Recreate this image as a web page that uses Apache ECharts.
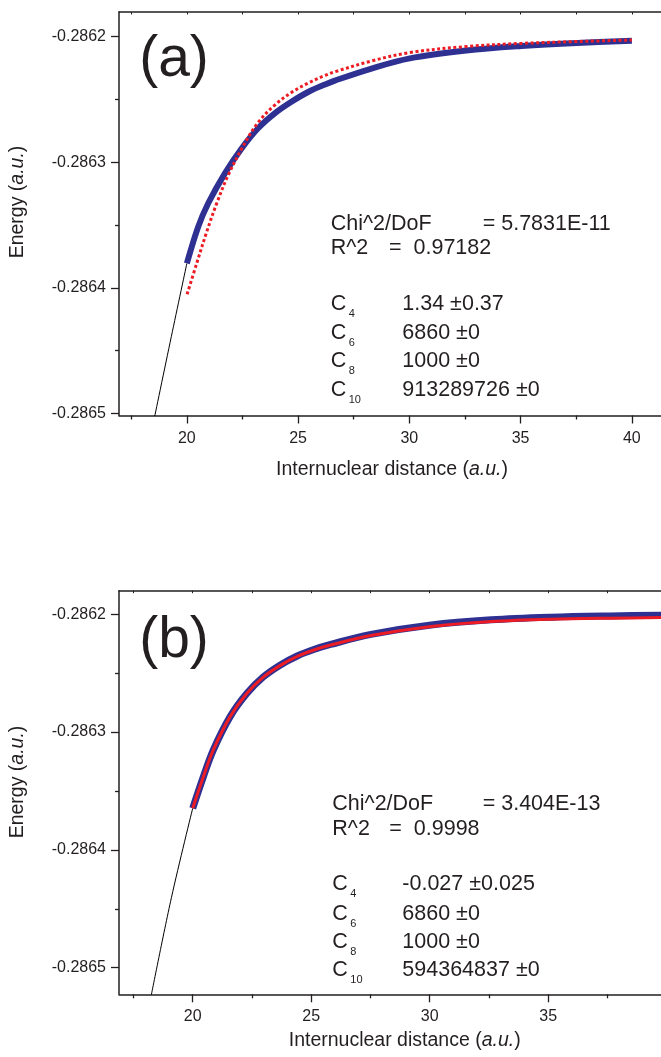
<!DOCTYPE html>
<html><head><meta charset="utf-8">
<script src="https://cdn.jsdelivr.net/npm/echarts@6/dist/echarts.min.js"></script>
<style>html,body{margin:0;padding:0;background:#fff}#c{width:661px;height:1057px}</style>
</head><body><div id="c"></div>
<script>
// ---------- Panel (a) data ----------
const xBlackA = [18.52, 19.3, 20.0];
const yBlackA = [-0.2865052, -0.2864389, -0.2863805];
const xBlueA = [20.0, 20.51, 20.96, 21.71, 22.46, 23.20, 23.95, 24.70, 25.45, 26.20, 26.65, 28.3, 30.02, 32.56, 35.04, 37.55, 40.0];
const yBlueA = [-0.2863805, -0.2863513, -0.2863326, -0.2863088, -0.2862890, -0.2862729, -0.2862610, -0.2862518, -0.2862440, -0.2862381, -0.2862349, -0.2862253, -0.2862172, -0.2862110, -0.2862074, -0.2862049, -0.2862032];
const xRedA = [20.01, 20.44, 20.89, 21.33, 21.86, 22.61, 23.20, 23.95, 24.70, 25.45, 26.20, 26.65, 28.3, 30.02, 32.56, 35.04, 37.55, 40.0];
const yRedA = [-0.2864051, -0.2863806, -0.2863555, -0.2863332, -0.2863101, -0.2862846, -0.2862683, -0.2862544, -0.2862444, -0.2862369, -0.2862309, -0.2862279, -0.2862193, -0.2862126, -0.2862078, -0.2862053, -0.2862038, -0.2862026];

// ---------- Panel (b) data ----------
const xBlackB = [18.22, 19.1, 20.0];
const yBlackB = [-0.2865266, -0.2864407, -0.2863647];
const xBlueB = [20.0, 20.45, 20.87, 21.58, 22.29, 22.99, 23.70, 24.41, 25.11, 25.82, 27.52, 30.06, 32.6, 35.1, 37.6, 40.0];
const yBlueB = [-0.2863647, -0.2863379, -0.2863152, -0.2862869, -0.2862671, -0.2862530, -0.2862430, -0.2862354, -0.2862299, -0.2862256, -0.2862171, -0.2862091, -0.2862047, -0.2862025, -0.2862014, -0.2862008];
const xRedB = [20.0, 20.45, 20.87, 21.58, 22.29, 22.99, 23.70, 24.41, 25.11, 25.82, 27.52, 30.06, 32.6, 35.1, 37.6, 40.0];
const yRedB = [-0.2863647, -0.2863379, -0.2863152, -0.2862869, -0.2862671, -0.2862532, -0.2862434, -0.2862358, -0.2862303, -0.2862261, -0.2862181, -0.2862104, -0.2862062, -0.2862042, -0.2862033, -0.2862028];

// ---------- Tick values ----------
const xMajorTicksA = [20, 25, 30, 35, 40];
const xMajorTicksB = [20, 25, 30, 35];
const xMinorTicks = [17.5, 22.5, 27.5, 32.5, 37.5];
const xTopTicks = [17.5, 20, 22.5, 25, 27.5, 30, 32.5, 35, 37.5, 40];
const yMajorTicks = [-0.2865, -0.2864, -0.2863, -0.2862];
const yMinorTicks = [-0.28645, -0.28635, -0.28625];

// ---------- Fit annotations ----------
const statsA = { chi: '= 5.7831E-11', r2: '=  0.97182', c: ['1.34 \u00b10.37', '6860 \u00b10', '1000 \u00b10', '913289726 \u00b10'] };
const statsB = { chi: '= 3.404E-13', r2: '=  0.9998', c: ['-0.027 \u00b10.025', '6860 \u00b10', '1000 \u00b10', '594364837 \u00b10'] };
const cSubs = ['4', '6', '8', '10'];

const FONT = "'Liberation Sans', Arial, Helvetica, sans-serif";
const INK = '#231f20';
const BLUE = '#2e3192';
const RED = '#ed1c24';

function pairs(xs, ys) { return xs.map((x, i) => [x, ys[i]]); }

function makeX(gi, min, max, margin, major) {
  const ls = { color: INK, width: 1.3 };
  return [
    { type: 'value', gridIndex: gi, position: 'bottom', min, max,
      axisLine: { show: true, onZero: false, lineStyle: { color: INK, width: 1.5 } },
      axisTick: { show: true, inside: false, length: 8, customValues: major, lineStyle: ls },
      axisLabel: { show: true, customValues: major, margin, fontSize: 16, color: INK, fontFamily: FONT },
      splitLine: { show: false } },
    { type: 'value', gridIndex: gi, position: 'bottom', min, max,
      axisLine: { show: false, onZero: false },
      axisTick: { show: true, inside: false, length: 4, customValues: xMinorTicks, lineStyle: ls },
      axisLabel: { show: false }, splitLine: { show: false } },
    { type: 'value', gridIndex: gi, position: 'top', min, max,
      axisLine: { show: true, onZero: false, lineStyle: { color: INK, width: 1.5 } },
      axisTick: { show: true, inside: true, length: 2.5, customValues: xTopTicks, lineStyle: { color: INK, width: 1 } },
      axisLabel: { show: false }, splitLine: { show: false } }
  ];
}
function makeY(gi, min, max) {
  const ls = { color: INK, width: 1.3 };
  return [
    { type: 'value', gridIndex: gi, position: 'left', min, max,
      axisLine: { show: true, onZero: false, lineStyle: { color: INK, width: 1.5 } },
      axisTick: { show: true, inside: false, length: 8, customValues: yMajorTicks, lineStyle: ls },
      axisLabel: { show: true, customValues: yMajorTicks, margin: 13, fontSize: 16, color: INK, fontFamily: FONT,
        formatter: v => Number(v).toFixed(4) },
      splitLine: { show: false } },
    { type: 'value', gridIndex: gi, position: 'left', min, max,
      axisLine: { show: false, onZero: false },
      axisTick: { show: true, inside: false, length: 4, customValues: yMinorTicks, lineStyle: ls },
      axisLabel: { show: false }, splitLine: { show: false } }
  ];
}

function line(data, xi, yi, color, width, type, z) {
  return { type: 'line', xAxisIndex: xi, yAxisIndex: yi, data, showSymbol: false, symbol: 'none',
    smooth: 0.35, clip: true, z,
    lineStyle: { color, width, type: type || 'solid', cap: 'butt' }, silent: true, animation: false };
}

function txt(x, y, text, size, extra) {
  return Object.assign({ type: 'text', x, y, silent: true,
    style: Object.assign({ text, fontSize: size, fontFamily: FONT, fill: INK, align: 'left', verticalAlign: 'middle' }, (extra && extra.style) || {}) },
    extra ? { rotation: extra.rotation || 0 } : {});
}
function richTitle(x, y, pre, rot) {
  return { type: 'text', x, y, rotation: rot || 0, silent: true,
    style: { text: '{n|' + pre + ' (}{i|a.u.}{n|)}', align: 'center', verticalAlign: 'middle',
      rich: { n: { fontSize: 19.5, fontFamily: FONT, fill: INK, color: INK },
              i: { fontSize: 19.5, fontFamily: FONT, fontStyle: 'italic', fill: INK, color: INK } } } };
}
function statBlock(stats, rows, colX) {
  const g = [];
  g.push(txt(colX[0], rows[0], 'Chi^2/DoF', 21.5));
  g.push(txt(colX[2], rows[0], stats.chi, 21.5));
  g.push(txt(colX[0], rows[1], 'R^2', 21.5));
  g.push(txt(colX[1], rows[1], stats.r2, 21.5));
  for (let i = 0; i < 4; i++) {
    const y = rows[2 + i];
    g.push(txt(colX[0], y, 'C', 21.5));
    g.push(txt(colX[0] + 18, y + 10, cSubs[i], 11));
    g.push(txt(colX[3], y, stats.c[i], 21.5));
  }
  return g;
}

const graphics = [].concat(
  [txt(174, 60, '(a)', 57, { style: { align: 'center' } }),
   txt(174, 641, '(b)', 57, { style: { align: 'center' } }),
   richTitle(392, 470, 'Internuclear distance'),
   richTitle(404.7, 1041, 'Internuclear distance'),
   richTitle(17.5, 202, 'Energy', Math.PI / 2),
   richTitle(17.5, 782, 'Energy', Math.PI / 2)],
  statBlock(statsA, [224, 248, 304, 333, 361, 390], [330.7, 389, 482.7, 402.3]),
  statBlock(statsB, [804, 829, 884, 914, 942, 970], [332.3, 389.3, 482.7, 402.3])
);

const option = {
  backgroundColor: '#fff',
  animation: false,
  grid: [
    { left: 119, top: 12, width: (42 - 16.95) * 22.25, height: 403.5, containLabel: false, outerBoundsMode: 'none' },
    { left: 119, top: 590.7, width: (40.5 - 16.89) * 23.7, height: 403.6, containLabel: false, outerBoundsMode: 'none' }
  ],
  xAxis: [].concat(makeX(0, 16.95, 42, 15, xMajorTicksA), makeX(1, 16.89, 40.5, 14, xMajorTicksB)),
  yAxis: [].concat(makeY(0, -0.2865016, -0.2861803), makeY(1, -0.2865226, -0.2861800)),
  series: [
    line(pairs(xBlackA, yBlackA), 0, 0, '#000', 1, 'solid', 2),
    line(pairs(xBlueA, yBlueA), 0, 0, BLUE, 6, 'solid', 3),
    line(pairs(xRedA, yRedA), 0, 0, RED, 3, [3, 2.5], 4),
    line(pairs(xBlackB, yBlackB), 3, 2, '#000', 1, 'solid', 2),
    line(pairs(xBlueB, yBlueB), 3, 2, BLUE, 7, 'solid', 3),
    line(pairs(xRedB, yRedB), 3, 2, RED, 3, 'solid', 4)
  ],
  graphic: graphics
};

const chart = echarts.init(document.getElementById('c'), null, { renderer: 'canvas' });
chart.setOption(option);
</script>
</body></html>
